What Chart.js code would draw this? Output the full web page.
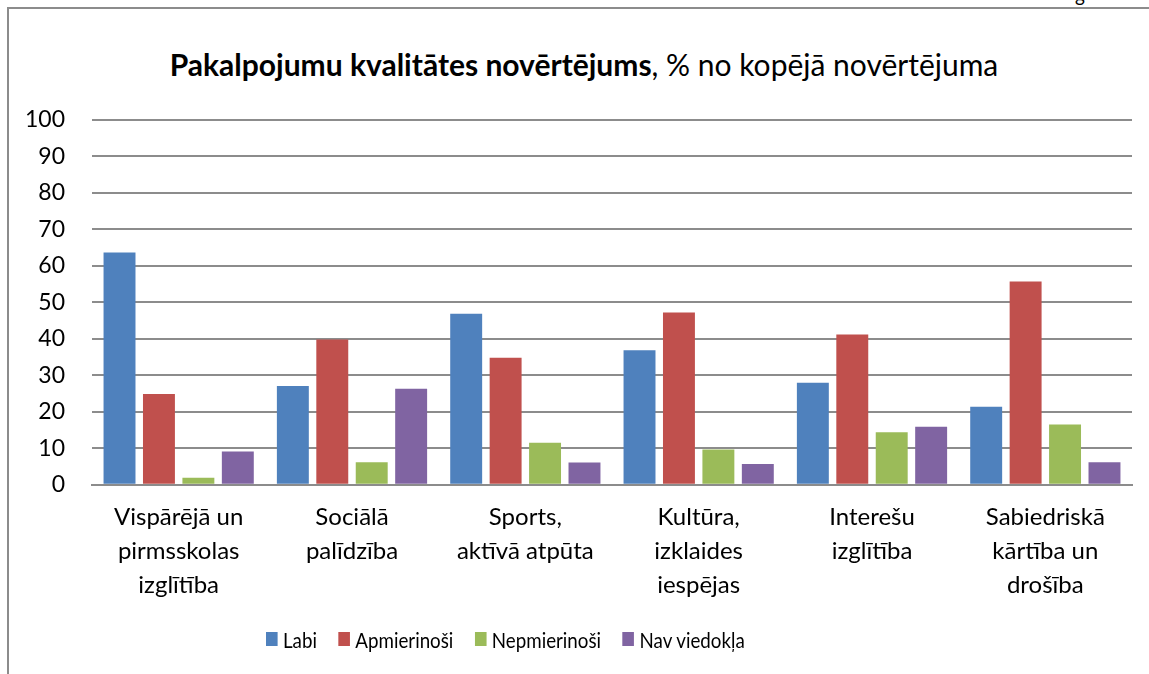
<!DOCTYPE html>
<html>
<head>
<meta charset="utf-8">
<script src="https://cdn.jsdelivr.net/npm/chart.js@4.4.1/dist/chart.umd.min.js"></script>
<style>
  html, body { margin: 0; padding: 0; background: #fff; overflow: hidden; }
  #wrap { position: relative; width: 1149px; height: 674px; }
  #frame { position: absolute; left: 7px; top: 7px; width: 1200px; height: 700px;
           border-left: 2px solid #8c8c8c; border-top: 2px solid #8c8c8c; }
  #title { position: absolute; left: 0; width: 1168px; top: 46px; text-align: center;
           font-family: Lato, "Open Sans", sans-serif; font-size: 30px; color: #000; white-space: nowrap; }
  #topg { position: absolute; left: 1075px; top: -17px; font-family: Lato, sans-serif; font-size: 19px; color: #000; }
  #legend { position: absolute; left: 266px; top: 626px; height: 26px; display: flex; align-items: center;
            font-family: Lato, "Open Sans", sans-serif; font-size: 21px; color: #000; white-space: nowrap;
            transform: scaleX(0.893); transform-origin: 0 50%; }
  #legend .item { display: flex; align-items: center; margin-right: 24px; }
  #legend .box { width: 13px; height: 14px; margin-right: 6px; }
  canvas { position: absolute; left: 0; top: 0; }
</style>
</head>
<body>
<div id="wrap">
  <div id="topg">g</div>
  <div id="frame"></div>
  <div id="title"><b>Pakalpojumu kvalitātes novērtējums</b>, % no kopējā novērtējuma</div>
  <canvas id="c" width="1149" height="674"></canvas>
  <div id="legend"></div>
</div>
<script>
const categories = [
  ["Vispārējā un", "pirmsskolas", "izglītība"],
  ["Sociālā", "palīdzība"],
  ["Sports,", "aktīvā atpūta"],
  ["Kultūra,", "izklaides", "iespējas"],
  ["Interešu", "izglītība"],
  ["Sabiedriskā", "kārtība un", "drošība"]
];
const seriesNames = ["Labi", "Apmierinoši", "Nepmierinoši", "Nav viedokļa"];
const labi         = [63.7, 27.1, 46.9, 36.9, 28.0, 21.4];
const apmierinosi  = [24.9, 39.8, 34.8, 47.2, 41.2, 55.7];
const nepmierinosi = [1.9, 6.2, 11.5, 9.7, 14.4, 16.5];
const navViedokla  = [9.1, 26.3, 6.1, 5.7, 15.9, 6.2];
const yTicks = [0, 10, 20, 30, 40, 50, 60, 70, 80, 90, 100];

const colors = ["#4F81BD", "#C0504D", "#9BBB59", "#8064A2"];
const seriesData = [labi, apmierinosi, nepmierinosi, navViedokla];
const FONT = "Lato, 'Open Sans', sans-serif";

const chart = new Chart(document.getElementById("c"), {
  type: "bar",
  data: {
    labels: categories,
    datasets: seriesNames.map((n, i) => ({
      label: n,
      data: seriesData[i],
      backgroundColor: colors[i],
      borderWidth: 0,
      categoryPercentage: 0.91,
      barPercentage: 0.81
    }))
  },
  options: {
    responsive: false,
    animation: false,
    devicePixelRatio: 1,
    layout: { padding: { top: 120, right: 17, bottom: 65, left: 0 } },
    plugins: {
      title: { display: false },
      tooltip: { enabled: false },
      legend: { display: false }
    },
    scales: {
      y: {
        min: 0, max: 100,
        afterBuildTicks: (s) => { s.ticks = yTicks.map(v => ({ value: v })); },
        afterFit: (s) => { s.width = 92; },
        ticks: { font: { family: FONT, size: 23 }, color: "#000", padding: 27 },
        grid: { color: "#8c8c8c", lineWidth: 2, tickLength: 0, drawTicks: false },
        border: { display: false }
      },
      x: {
        ticks: { font: { family: FONT, size: 24, lineHeight: 1.42 }, color: "#000", padding: 7, maxRotation: 0, autoSkip: false },
        grid: { display: false },
        border: { display: true, color: "#8c8c8c", width: 2 }
      }
    }
  }
});

// HTML legend built from the chart's datasets
const legendEl = document.getElementById("legend");
chart.data.datasets.forEach(ds => {
  const item = document.createElement("span");
  item.className = "item";
  const box = document.createElement("span");
  box.className = "box";
  box.style.background = ds.backgroundColor;
  const txt = document.createElement("span");
  txt.textContent = ds.label;
  item.appendChild(box);
  item.appendChild(txt);
  legendEl.appendChild(item);
});
</script>
</body>
</html>
